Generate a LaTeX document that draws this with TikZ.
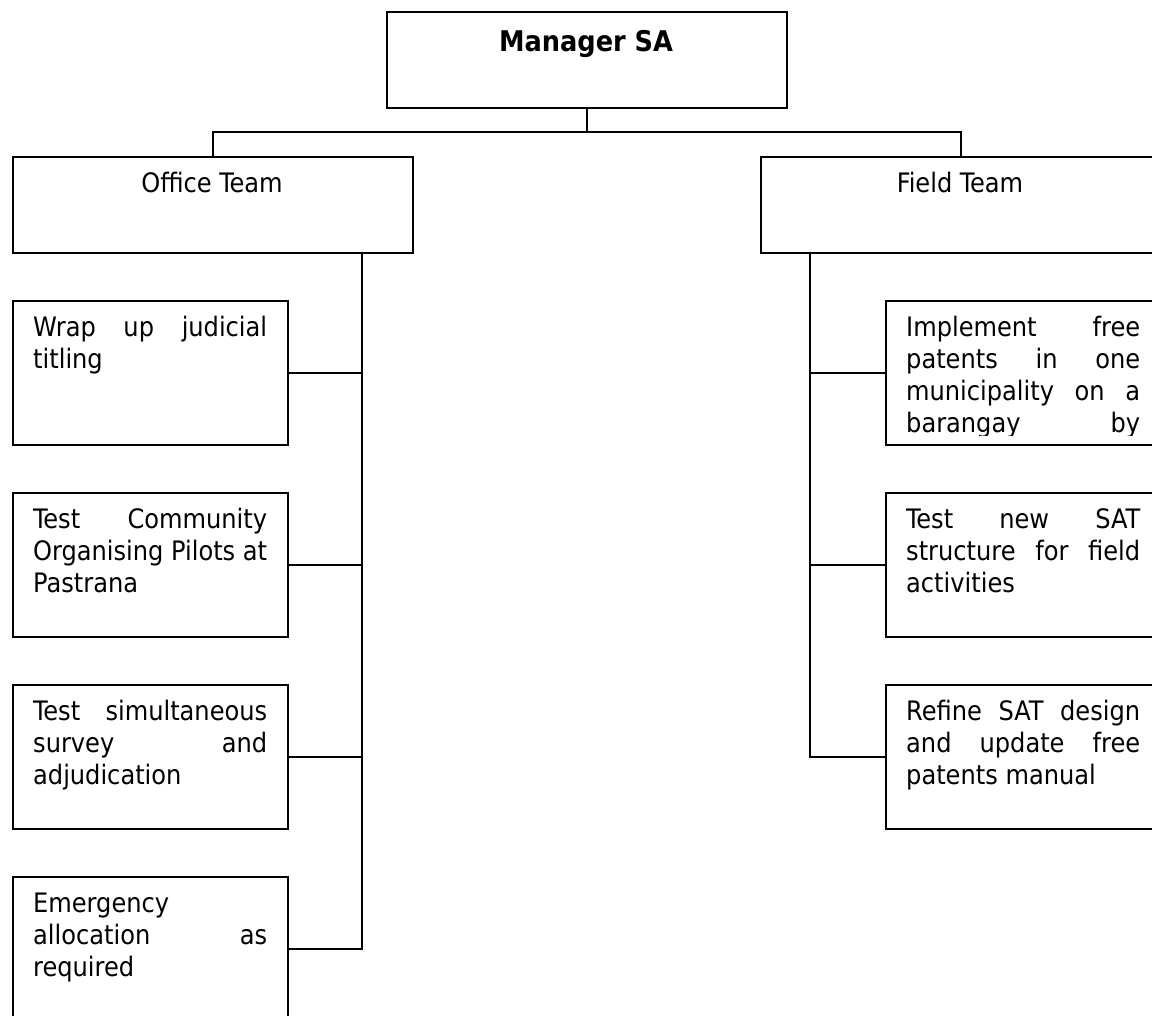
\documentclass[tikz,border=0pt]{standalone}
\usepackage{fontspec}
\setmainfont{DejaVu Sans Condensed}[BoldFont={DejaVu Sans Condensed Bold}]

% one text line: fixed height and depth so that lines stack at 32pt
\newcommand\linestrut{\vrule height 24pt depth 8pt width 0pt}
% a justified line (words separated by \hfill)
\newcommand\jl[1]{\hbox to \hsize{\linestrut#1}}
% a line set at its natural width
\newcommand\lastl[1]{\hbox{\linestrut#1}}
% a block of lines, 234pt wide
\newcommand\block[1]{\vbox{\hsize=234pt\baselineskip=32pt\lineskiplimit=-100pt#1}}

\begin{document}
\begin{tikzpicture}[x=1pt, y=-1pt,
  orgbox/.style={draw, line width=1.6pt, rectangle, inner sep=0pt, anchor=north west},
  headbox/.style={orgbox, minimum width=400pt, minimum height=96pt},
  taskbox/.style={orgbox, minimum width=275pt, minimum height=144pt},
  head/.style={anchor=base, inner sep=0pt, font=\fontsize{26.8pt}{32pt}\selectfont},
  tasktext/.style={anchor=north west, inner sep=0pt,
                   font=\fontsize{26.8pt}{32pt}\selectfont},
  link/.style={line width=1.6pt}]

\clip (0,0) rectangle (1152,1016);

% top level and the two teams
\node[headbox] (mgr)    at (386,11)  {};
\node[headbox] (office) at (12,156)  {};
\node[headbox] (field)  at (760,156) {};

\node[head, font=\bfseries\fontsize{28.5pt}{32pt}\selectfont] (mgrlabel) at (586,52) {Manager SA};
\node[head] (officelabel) at (212,193) {Office Team};
\node[head] (fieldlabel)  at (960,193) {Field Team};

% office team tasks
\node[taskbox] (t1) at (12,300) {};
\node[taskbox] (t2) at (12,492) {};
\node[taskbox] (t3) at (12,684) {};
\node[taskbox] (t4) at (12,876) {};

\node[tasktext] (t1text) at (33,312) {\block{\jl{Wrap\hfill up\hfill judicial}\lastl{titling}}};
\node[tasktext] (t2text) at (33,504) {\block{\jl{Test\hfill Community}\jl{Organising\hfill Pilots\hfill at}\lastl{Pastrana}}};
\node[tasktext] (t3text) at (33,696) {\block{\jl{Test\hfill simultaneous}\jl{survey\hfill and}\lastl{adjudication}}};
\node[tasktext] (t4text) at (33,888) {\block{\lastl{Emergency}\jl{allocation\hfill as}\lastl{required}}};

% field team tasks
\node[taskbox] (r1) at (885,300) {};
\node[taskbox] (r2) at (885,492) {};
\node[taskbox] (r3) at (885,684) {};

% the first field task overflows its box: its text is cut at the inner margin
\begin{scope}
  \clip (885,300) rectangle (1160,435);
  \node[tasktext] (r1text) at (906,312) {\block{\jl{Implement\hfill free}\jl{patents\hfill in\hfill one}\jl{municipality\hfill on\hfill a}\jl{barangay\hfill by}}};
\end{scope}
\node[tasktext] (r2text) at (906,504) {\block{\jl{Test\hfill new\hfill SAT}\jl{structure\hfill for\hfill field}\lastl{activities}}};
\node[tasktext] (r3text) at (906,696) {\block{\jl{Refine\hfill SAT\hfill design}\jl{and\hfill update\hfill free}\lastl{patents manual}}};

% connectors
\coordinate (bus) at (586,132);
\coordinate (otrunk) at (362,252);
\coordinate (ftrunk) at (810,252);

\draw[link] (mgr.south) -- (mgr.south |- bus);
\draw[link] (office.north) -- (office.north |- bus) -- (field.north |- bus) -- (field.north);

\draw[link] (otrunk) |- (t4.east);
\draw[link] (t1.east) -- (t1.east -| otrunk);
\draw[link] (t2.east) -- (t2.east -| otrunk);
\draw[link] (t3.east) -- (t3.east -| otrunk);

\draw[link] (ftrunk) |- (r3.west);
\draw[link] (r1.west) -- (r1.west -| ftrunk);
\draw[link] (r2.west) -- (r2.west -| ftrunk);
\end{tikzpicture}
\end{document}
